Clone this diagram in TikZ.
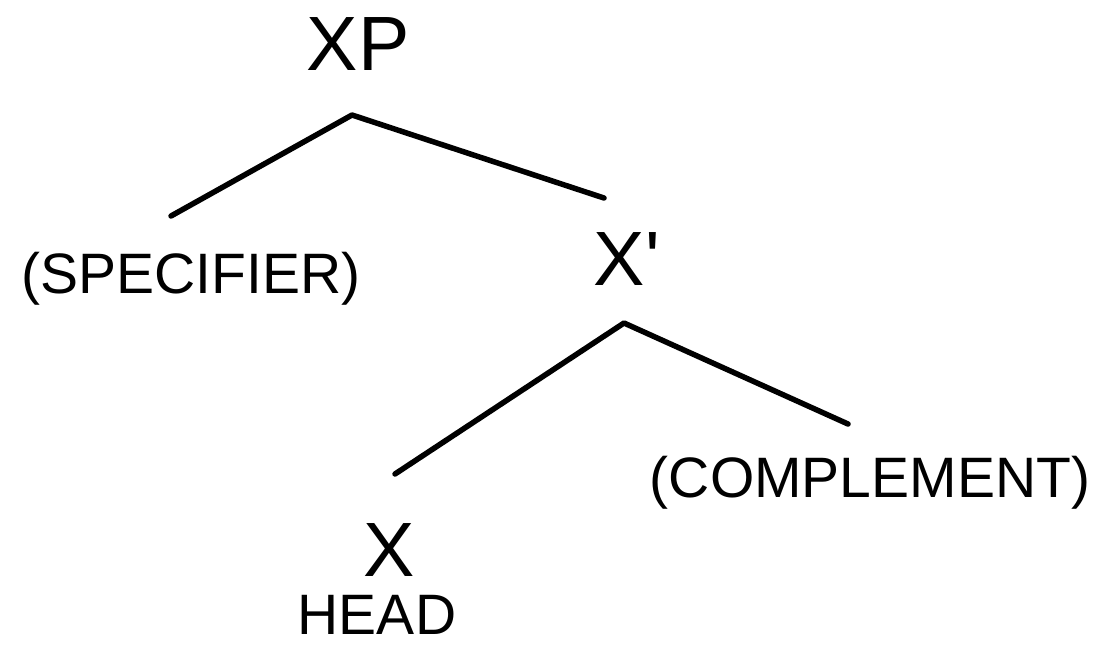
\documentclass[tikz,border=0pt]{standalone}
\usepackage{fontspec}
\setmainfont{Liberation Sans}
\begin{document}
\begin{tikzpicture}[x=1pt,y=-1pt,
  big/.style={inner sep=0pt,anchor=base,font=\fontsize{77}{77}\selectfont},
  small/.style={inner sep=0pt,anchor=base,font=\fontsize{57}{57}\selectfont},
  branch/.style={line width=5.5pt,line cap=round,line join=round}]
\useasboundingbox (0,0) rectangle (1097,648);
\node[big] (xp) at (358,70) {XP};
\node[small] (spec) at (191,293) {(SPECIFIER)};
\node[big] (xbar) at (627,285) {X\textquotesingle};
\node[small] (comp) at (870,497) {(COMPLEMENT)};
\node[big] (x) at (389,576) {X};
\node[small] (head) at (377,634) {HEAD};
\coordinate (a1) at (352,115);
\coordinate (l1) at (171,216);
\coordinate (r1) at (604,198);
\coordinate (a2) at (624,323);
\coordinate (l2) at (395,474);
\coordinate (r2) at (848,424);
\draw[branch] (l1) -- (a1) -- (r1);
\draw[branch] (l2) -- (a2) -- (r2);
\end{tikzpicture}
\end{document}
